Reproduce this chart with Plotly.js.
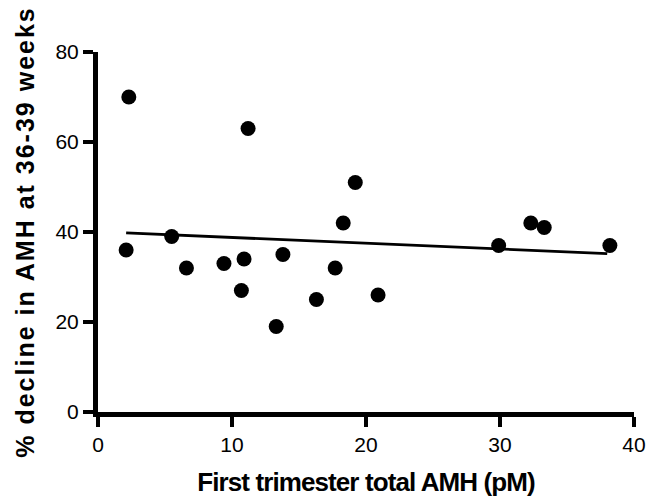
<!DOCTYPE html>
<html>
<head>
<meta charset="utf-8">
<script src="https://cdn.plot.ly/plotly-3.0.1.min.js"></script>
<style>
html,body{margin:0;padding:0;background:#fff;}
#chart{width:649px;height:499px;}
#chart .ytitle{letter-spacing:2.0px;}
#chart .xtitle{letter-spacing:-0.9px;}
</style>
</head>
<body>
<div id="chart"></div>
<script>
const amhFirst = [2.1, 2.3, 5.5, 6.6, 9.4, 10.7, 10.9, 11.2, 13.3, 13.8, 16.3, 17.7, 18.3, 19.2, 20.9, 29.9, 32.3, 33.3, 38.2];
const pctDecline = [36, 70, 39, 32, 33, 27, 34, 63, 19, 35, 25, 32, 42, 51, 26, 37, 42, 41, 37];
const fitX = [2.1, 38.0];
const fitY = [39.8, 35.2];
const xTicks = [0, 10, 20, 30, 40];
const yTicks = [0, 20, 40, 60, 80];

const font = "Liberation Sans, Arial, Helvetica, sans-serif";
const data = [
  {x: fitX, y: fitY, type: 'scatter', mode: 'lines', line: {color: '#000', width: 2.8}, showlegend: false, hoverinfo: 'skip'},
  {x: amhFirst, y: pctDecline, type: 'scatter', mode: 'markers', marker: {color: '#000', size: 15}, showlegend: false}
];
const layout = {
  width: 649, height: 499,
  margin: {l: 98, r: 15, t: 52, b: 87},
  paper_bgcolor: '#fff', plot_bgcolor: '#fff',
  showlegend: false,
  xaxis: {
    range: [0, 40], tickvals: xTicks, ticktext: xTicks.map(String),
    showgrid: false, zeroline: false,
    showline: true, linecolor: '#000', linewidth: 5,
    ticks: 'outside', ticklen: 10, tickwidth: 4.5, tickcolor: '#000',
    tickfont: {family: font, size: 21, color: '#000'},
    title: {text: 'First trimester total AMH (pM)', font: {family: font, size: 26, color: '#000', weight: 'bold'}, standoff: 19}
  },
  yaxis: {
    range: [0, 80], tickvals: yTicks, ticktext: yTicks.map(String),
    showgrid: false, zeroline: false,
    showline: true, linecolor: '#000', linewidth: 5,
    ticks: 'outside', ticklen: 10, tickwidth: 4.5, tickcolor: '#000',
    tickfont: {family: font, size: 21, color: '#000'},
    title: {text: '% decline in AMH at 36-39 weeks', font: {family: font, size: 25, color: '#000', weight: 'bold'}, standoff: 15}
  }
};
Plotly.newPlot('chart', data, layout, {staticPlot: true, displayModeBar: false});
</script>
</body>
</html>
